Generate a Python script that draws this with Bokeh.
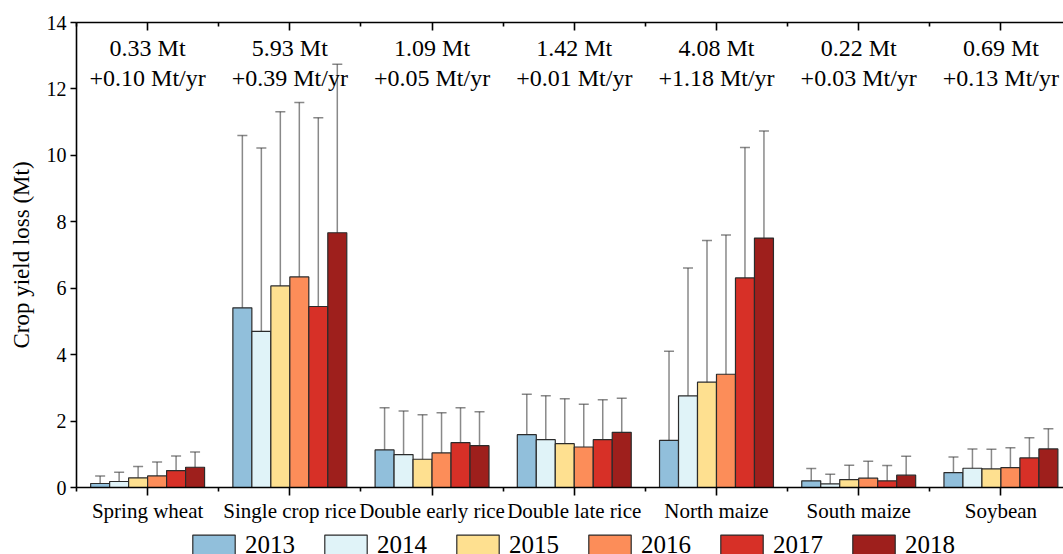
from bokeh.plotting import figure
from bokeh.layouts import column
from bokeh.models import (ColumnDataSource, FixedTicker, LinearAxis, Range1d,
                          Whisker, TeeHead, Legend, LegendItem)
from bokeh.core.properties import value
from bokeh.embed import file_html
from bokeh.resources import INLINE

crops = ["Spring wheat", "Single crop rice", "Double early rice", "Double late rice",
         "North maize", "South maize", "Soybean"]
years = ["2013", "2014", "2015", "2016", "2017", "2018"]
colors = ["#91bfdb", "#e0f3f8", "#fee090", "#fc8d59", "#d73027", "#9e1f1c"]

# mean yield loss (Mt) per year, crops in order above
loss_2013 = [0.12, 5.41, 1.13, 1.59, 1.42, 0.20, 0.45]
loss_2014 = [0.18, 4.70, 0.99, 1.44, 2.76, 0.11, 0.58]
loss_2015 = [0.29, 6.07, 0.85, 1.32, 3.17, 0.24, 0.56]
loss_2016 = [0.35, 6.34, 1.04, 1.22, 3.41, 0.28, 0.60]
loss_2017 = [0.51, 5.45, 1.35, 1.44, 6.31, 0.20, 0.89]
loss_2018 = [0.61, 7.67, 1.26, 1.66, 7.51, 0.37, 1.16]

# error bar upper ends
upper_2013 = [0.35, 10.60, 2.40, 2.81, 4.10, 0.57, 0.92]
upper_2014 = [0.46, 10.22, 2.30, 2.76, 6.61, 0.40, 1.16]
upper_2015 = [0.63, 11.31, 2.19, 2.67, 7.44, 0.67, 1.15]
upper_2016 = [0.77, 11.59, 2.25, 2.51, 7.60, 0.79, 1.20]
upper_2017 = [0.95, 11.13, 2.40, 2.64, 10.24, 0.66, 1.50]
upper_2018 = [1.07, 12.74, 2.28, 2.69, 10.73, 0.94, 1.77]

# error bar lower ends
lower_2013 = [0.03, 0.31, 0.10, 0.10, 0.11, 0.03, 0.20]
lower_2014 = [0.03, 0.34, 0.05, 0.12, 0.47, 0.02, 0.25]
lower_2015 = [0.03, 0.60, 0.08, 0.05, 0.41, 0.03, 0.28]
lower_2016 = [0.03, 0.53, 0.08, 0.05, 0.41, 0.03, 0.30]
lower_2017 = [0.03, 0.46, 0.14, 0.09, 2.58, 0.03, 0.62]
lower_2018 = [0.05, 0.89, 0.18, 0.14, 4.10, 0.05, 0.92]

# annotations: mean loss and trend
mean_loss = [0.33, 5.93, 1.09, 1.42, 4.08, 0.22, 0.69]
trend = [0.10, 0.39, 0.05, 0.01, 1.18, 0.03, 0.13]

losses = [loss_2013, loss_2014, loss_2015, loss_2016, loss_2017, loss_2018]
uppers = [upper_2013, upper_2014, upper_2015, upper_2016, upper_2017, upper_2018]
lowers = [lower_2013, lower_2014, lower_2015, lower_2016, lower_2017, lower_2018]

FONT = "Liberation Serif"
bar_w = 0.1335

p = figure(width=1063, height=531, output_backend="svg", toolbar_location=None,
           x_range=Range1d(-0.5, 6.44), y_range=Range1d(0, 14),
           min_border_left=76, min_border_right=0, min_border_top=22,
           min_border_bottom=44)
p.outline_line_color = None
p.xgrid.visible = False
p.ygrid.visible = False

# legend lives in a thin strip figure under the chart
lg = figure(width=1063, height=23, output_backend="svg", toolbar_location=None,
            x_range=Range1d(-0.5, 6.44), y_range=Range1d(20, 21),
            x_axis_type=None, y_axis_type=None,
            min_border_left=0, min_border_right=0, min_border_top=0,
            min_border_bottom=0)
lg.outline_line_color = None
lg.xgrid.visible = False
lg.ygrid.visible = False

legend_items = []
for j, yr in enumerate(years):
    xs = [i + (j - 2.5) * bar_w for i in range(len(crops))]
    src = ColumnDataSource(dict(x=xs, top=losses[j], upper=uppers[j], lower=lowers[j]))
    p.vbar(x="x", top="top", width=bar_w, bottom=0, source=src,
           fill_color=colors[j], line_color="#2b2b2b", line_width=1.2)
    wc = "#3a3a3a"
    w = Whisker(base="x", upper="upper", lower="lower", source=src,
                line_color=wc, line_alpha=0.6, line_width=1.5,
                upper_head=TeeHead(size=10, line_color=wc, line_alpha=0.6, line_width=1.5),
                lower_head=TeeHead(size=10, line_color=wc, line_alpha=0.6, line_width=1.5))
    p.add_layout(w)
    # legend swatch renderer (hidden copy of the year's bars)
    r = lg.vbar(x="x", top="top", width=bar_w, bottom=0, source=src,
                fill_color=colors[j], line_color="#2b2b2b", line_width=1.2,
                visible=False)
    legend_items.append(LegendItem(label=yr, renderers=[r]))

# annotations
tsrc = ColumnDataSource(dict(
    x=list(range(len(crops))),
    y1=[13.22] * len(crops),
    y2=[12.32] * len(crops),
    t1=["%.2f Mt" % v for v in mean_loss],
    t2=["+%.2f Mt/yr" % v for v in trend]))
p.text(x="x", y="y1", text="t1", source=tsrc, text_align="center",
       text_baseline="middle", text_font=value(FONT), text_font_size="24px",
       text_color="black")
p.text(x="x", y="y2", text="t2", source=tsrc, text_align="center",
       text_baseline="middle", text_font=value(FONT), text_font_size="24px",
       text_color="black")

xt = FixedTicker(ticks=list(range(len(crops))),
                 minor_ticks=[i - 0.5 for i in range(len(crops) + 1)])

xa = p.xaxis[0]
xa.ticker = xt
xa.major_label_overrides = {i: c for i, c in enumerate(crops)}
xa.major_label_text_font = FONT
xa.major_label_text_font_size = "21px"
xa.major_label_text_color = "black"
xa.axis_line_width = 1.6
xa.axis_line_color = "black"
xa.major_tick_line_width = 1.6
xa.major_tick_line_color = "black"
xa.minor_tick_line_width = 1.6
xa.minor_tick_line_color = "black"
xa.major_tick_in = 0
xa.major_tick_out = 8
xa.minor_tick_in = 0
xa.minor_tick_out = 4
xa.major_label_standoff = 3

ya = p.yaxis[0]
ya.ticker = FixedTicker(ticks=[0, 2, 4, 6, 8, 10, 12, 14])
ya.axis_label = "Crop yield loss (Mt)"
ya.axis_label_text_font = FONT
ya.axis_label_text_font_size = "23px"
ya.axis_label_text_font_style = "normal"
ya.axis_label_text_color = "black"
ya.axis_label_standoff = 10
ya.major_label_text_font = FONT
ya.major_label_text_font_size = "20px"
ya.major_label_text_color = "black"
ya.axis_line_width = 1.6
ya.axis_line_color = "black"
ya.major_tick_line_width = 1.6
ya.major_tick_line_color = "black"
ya.major_tick_in = 0
ya.major_tick_out = 6
ya.minor_tick_line_color = None
ya.major_label_standoff = 4

top = LinearAxis(ticker=xt, major_label_overrides={i: "" for i in range(len(crops))},
                 major_label_text_color=None, major_label_text_font_size="1px",
                 major_label_standoff=0, axis_line_width=1.6, axis_line_color="black",
                 major_tick_in=8, major_tick_out=0, minor_tick_in=4, minor_tick_out=0,
                 major_tick_line_width=1.6, minor_tick_line_width=1.6,
                 major_tick_line_color="black", minor_tick_line_color="black")
p.add_layout(top, "above")

legend = Legend(items=legend_items, orientation="horizontal",
                location=(111, -5), padding=0, margin=0, spacing=24,
                glyph_width=53, glyph_height=26, label_standoff=5,
                label_text_font=FONT, label_text_font_size="25px",
                label_text_color="black", border_line_color=None,
                background_fill_alpha=0)
lg.add_layout(legend, "center")

layout = column(p, lg, spacing=0)
open("out.html", "w").write(file_html(layout, INLINE))
